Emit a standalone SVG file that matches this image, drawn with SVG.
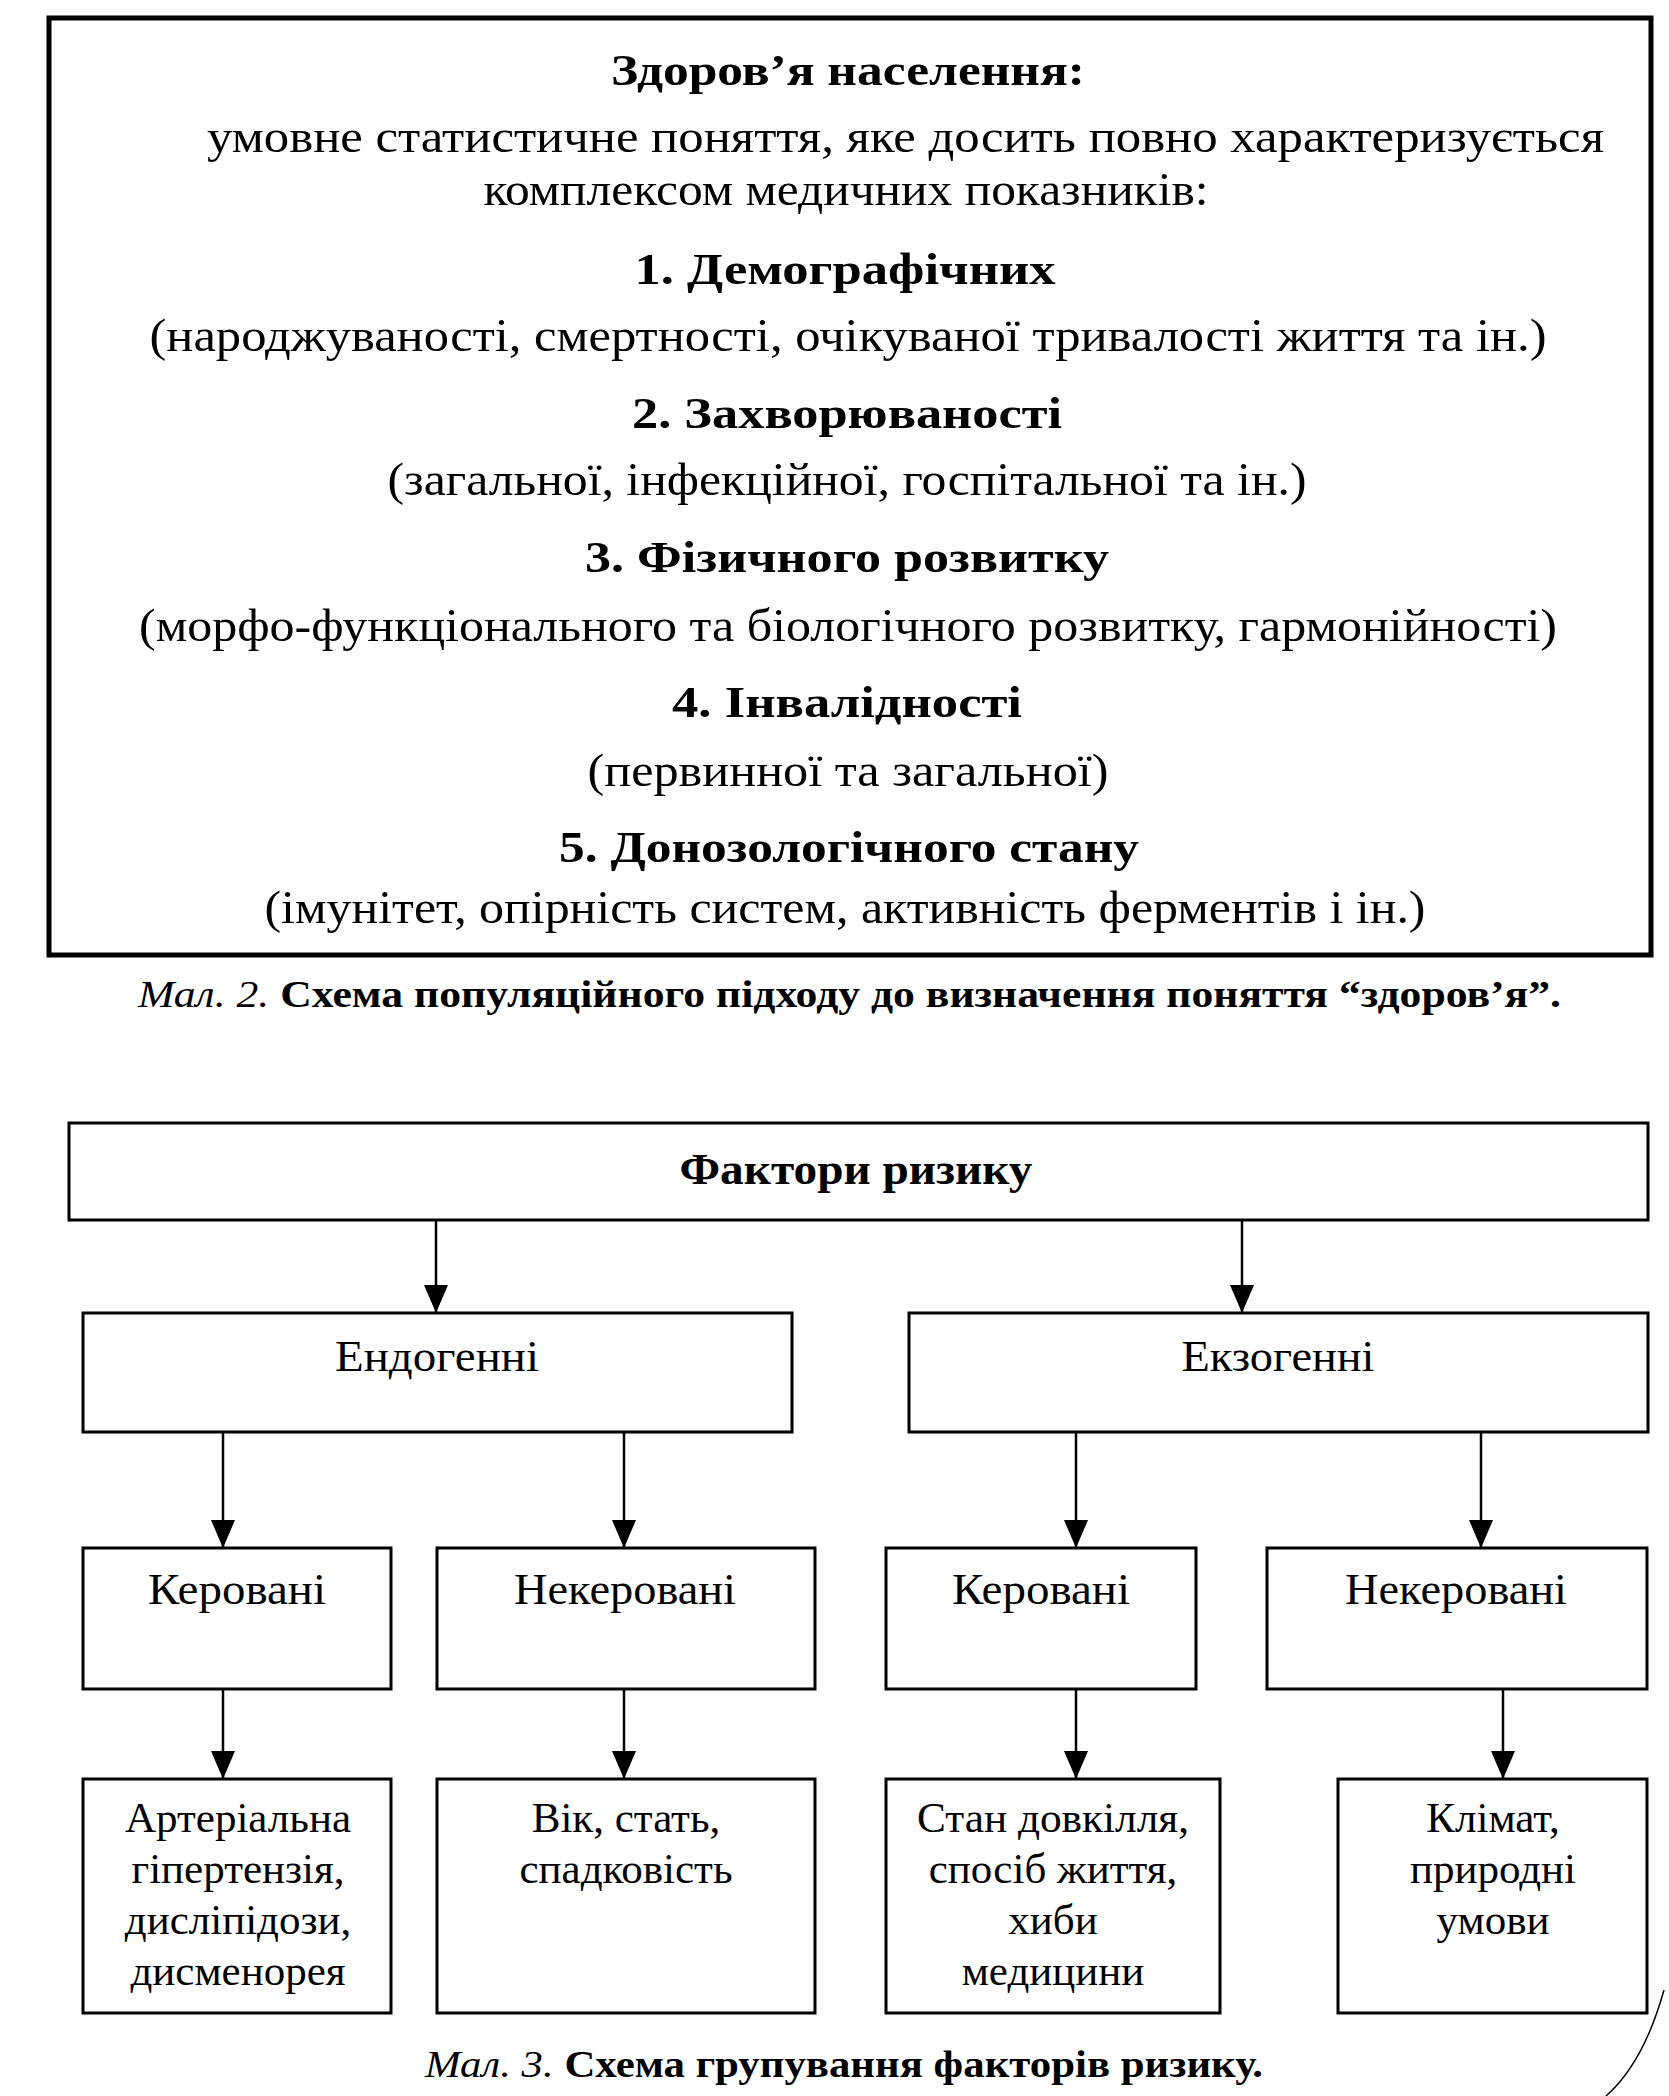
<svg xmlns="http://www.w3.org/2000/svg" width="1669" height="2096" viewBox="0 0 1669 2096">
<style>
  .bg { fill: #ffffff; }
  .frame { fill: none; stroke: #000; stroke-width: 5; }
  .box { fill: #ffffff; stroke: #000; stroke-width: 3; }
  .reg { font-family: "Liberation Serif", "Times New Roman", serif; font-size: 47px; fill: #000; }
  .bold { font-family: "Liberation Serif", "Times New Roman", serif; font-size: 45px; font-weight: bold; fill: #000; }
  .lbl { font-family: "Liberation Serif", "Times New Roman", serif; font-size: 45px; fill: #000; text-anchor: middle; }
  .lbl4 { font-family: "Liberation Serif", "Times New Roman", serif; font-size: 43px; fill: #000; text-anchor: middle; }
  .cap { font-family: "Liberation Serif", "Times New Roman", serif; font-size: 38px; font-weight: bold; fill: #000; }
  .it { font-style: italic; font-weight: normal; }
  .mid { text-anchor: middle; }
  .conn { stroke: #000; stroke-width: 2.5; fill: none; }
</style>
<defs>
  <marker id="arrow" viewBox="0 0 28 24" refX="28" refY="12" markerWidth="28" markerHeight="24" markerUnits="userSpaceOnUse" orient="auto">
    <path d="M0,0 L28,12 L0,24 Z" fill="#000"/>
  </marker>
</defs>
<rect class="bg" x="0" y="0" width="1669" height="2096"/>

<!-- Figure 2 -->
<g id="health-box">
  <rect class="frame" x="49" y="18" width="1602" height="937"/>
  <text class="bold mid" x="848" y="85" textLength="474" lengthAdjust="spacingAndGlyphs">Здоров’я населення:</text>
  <text class="reg" x="207" y="152" textLength="1397" lengthAdjust="spacingAndGlyphs">умовне статистичне поняття, яке досить повно характеризується</text>
  <text class="reg mid" x="846" y="205" textLength="725" lengthAdjust="spacingAndGlyphs">комплексом медичних показників:</text>
  <text class="bold mid" x="845" y="284" textLength="421" lengthAdjust="spacingAndGlyphs">1. Демографічних</text>
  <text class="reg mid" x="848" y="351" textLength="1397" lengthAdjust="spacingAndGlyphs">(народжуваності, смертності, очікуваної тривалості життя та ін.)</text>
  <text class="bold mid" x="847" y="428" textLength="430" lengthAdjust="spacingAndGlyphs">2. Захворюваності</text>
  <text class="reg mid" x="847" y="495" textLength="919" lengthAdjust="spacingAndGlyphs">(загальної, інфекційної, госпітальної та ін.)</text>
  <text class="bold mid" x="847" y="572" textLength="524" lengthAdjust="spacingAndGlyphs">3. Фізичного розвитку</text>
  <text class="reg mid" x="848" y="641" textLength="1418" lengthAdjust="spacingAndGlyphs">(морфо-функціонального та біологічного розвитку, гармонійності)</text>
  <text class="bold mid" x="847" y="717" textLength="350" lengthAdjust="spacingAndGlyphs">4. Інвалідності</text>
  <text class="reg mid" x="848" y="786" textLength="521" lengthAdjust="spacingAndGlyphs">(первинної та загальної)</text>
  <text class="bold mid" x="849" y="862" textLength="580" lengthAdjust="spacingAndGlyphs">5. Донозологічного стану</text>
  <text class="reg mid" x="845" y="923" textLength="1161" lengthAdjust="spacingAndGlyphs">(імунітет, опірність систем, активність ферментів і ін.)</text>
</g>
<g id="caption-2">
  <text class="cap" x="138" y="1007" textLength="1423" lengthAdjust="spacingAndGlyphs"><tspan class="it">Мал. 2.</tspan> Схема популяційного підходу до визначення поняття “здоров’я”.</text>
</g>

<!-- Figure 3 -->
<g id="connectors">
  <line class="conn" x1="436" y1="1220" x2="436" y2="1313" marker-end="url(#arrow)"/>
  <line class="conn" x1="1242" y1="1220" x2="1242" y2="1313" marker-end="url(#arrow)"/>
  <line class="conn" x1="223" y1="1432" x2="223" y2="1548" marker-end="url(#arrow)"/>
  <line class="conn" x1="624" y1="1432" x2="624" y2="1548" marker-end="url(#arrow)"/>
  <line class="conn" x1="1076" y1="1432" x2="1076" y2="1548" marker-end="url(#arrow)"/>
  <line class="conn" x1="1481" y1="1432" x2="1481" y2="1548" marker-end="url(#arrow)"/>
  <line class="conn" x1="223" y1="1689" x2="223" y2="1779" marker-end="url(#arrow)"/>
  <line class="conn" x1="624" y1="1689" x2="624" y2="1779" marker-end="url(#arrow)"/>
  <line class="conn" x1="1076" y1="1689" x2="1076" y2="1779" marker-end="url(#arrow)"/>
  <line class="conn" x1="1503" y1="1689" x2="1503" y2="1779" marker-end="url(#arrow)"/>
</g>

<g id="risk-factors">
  <rect class="box" x="69" y="1123" width="1579" height="97"/>
  <text class="bold mid" x="856" y="1184" font-size="54" textLength="353" lengthAdjust="spacingAndGlyphs">Фактори ризику</text>
</g>
<g id="endogenous">
  <rect class="box" x="83" y="1313" width="709" height="119"/>
  <text class="lbl" x="437" y="1371" textLength="204" lengthAdjust="spacingAndGlyphs">Ендогенні</text>
</g>
<g id="exogenous">
  <rect class="box" x="909" y="1313" width="739" height="119"/>
  <text class="lbl" x="1278" y="1371" textLength="193" lengthAdjust="spacingAndGlyphs">Екзогенні</text>
</g>
<g id="endo-controlled">
  <rect class="box" x="83" y="1548" width="308" height="141"/>
  <text class="lbl" x="237" y="1604" textLength="178" lengthAdjust="spacingAndGlyphs">Керовані</text>
</g>
<g id="endo-uncontrolled">
  <rect class="box" x="437" y="1548" width="378" height="141"/>
  <text class="lbl" x="625" y="1604" textLength="222" lengthAdjust="spacingAndGlyphs">Некеровані</text>
</g>
<g id="exo-controlled">
  <rect class="box" x="886" y="1548" width="310" height="141"/>
  <text class="lbl" x="1041" y="1604" textLength="178" lengthAdjust="spacingAndGlyphs">Керовані</text>
</g>
<g id="exo-uncontrolled">
  <rect class="box" x="1267" y="1548" width="380" height="141"/>
  <text class="lbl" x="1456" y="1604" textLength="222" lengthAdjust="spacingAndGlyphs">Некеровані</text>
</g>
<g id="endo-controlled-items">
  <rect class="box" x="83" y="1779" width="308" height="234"/>
  <text class="lbl4" x="238" y="1832" textLength="226" lengthAdjust="spacingAndGlyphs">Артеріальна</text>
  <text class="lbl4" x="238" y="1883">гіпертензія,</text>
  <text class="lbl4" x="238" y="1934">дисліпідози,</text>
  <text class="lbl4" x="238" y="1985">дисменорея</text>
</g>
<g id="endo-uncontrolled-items">
  <rect class="box" x="437" y="1779" width="378" height="234"/>
  <text class="lbl4" x="626" y="1832">Вік, стать,</text>
  <text class="lbl4" x="626" y="1883">спадковість</text>
</g>
<g id="exo-controlled-items">
  <rect class="box" x="886" y="1779" width="334" height="234"/>
  <text class="lbl4" x="1053" y="1832" textLength="272" lengthAdjust="spacingAndGlyphs">Стан довкілля,</text>
  <text class="lbl4" x="1053" y="1883">спосіб життя,</text>
  <text class="lbl4" x="1053" y="1934">хиби</text>
  <text class="lbl4" x="1053" y="1985">медицини</text>
</g>
<g id="exo-uncontrolled-items">
  <rect class="box" x="1338" y="1779" width="309" height="234"/>
  <text class="lbl4" x="1493" y="1832">Клімат,</text>
  <text class="lbl4" x="1493" y="1883">природні</text>
  <text class="lbl4" x="1493" y="1934">умови</text>
</g>
<g id="caption-3">
  <text class="cap" x="425" y="2077" textLength="838" lengthAdjust="spacingAndGlyphs"><tspan class="it">Мал. 3.</tspan> Схема групування факторів ризику.</text>
</g>
<path d="M1664,1990 C1650,2040 1630,2075 1606,2096" fill="none" stroke="#000" stroke-width="1.5"/>
</svg>
